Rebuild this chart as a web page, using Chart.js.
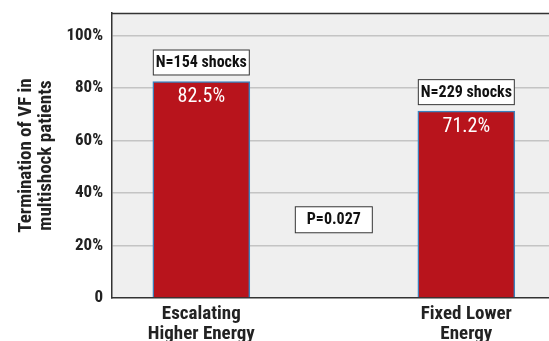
<!DOCTYPE html>
<html>
<head>
<meta charset="utf-8">
<script src="https://cdn.jsdelivr.net/npm/chart.js@4"></script>
<style>
  html, body { margin: 0; padding: 0; background: #fff; overflow: hidden; }
  #wrap { width: 549px; height: 341px; }
</style>
</head>
<body>
<div id="wrap"><canvas id="vfChart" width="549" height="341"></canvas></div>
<script>
// values
const categories = [['Escalating', 'Higher Energy'], ['Fixed Lower', 'Energy']];
const termination = [82.5, 71.2];
const shockLabels = ['N=154 shocks', 'N=229 shocks'];
const pValueLabel = 'P=0.027';
const pValuePos = { x: 0.5, y: 30 };
const yTicks = [0, 20, 40, 60, 80, 100];

const FONT = "'Roboto Condensed', 'DejaVu Sans Condensed', sans-serif";

// gray plot panel + annotations
const annotate = {
    id: 'annotate',
    beforeDraw(chart) {
        const { ctx, chartArea: a } = chart;
        ctx.save();
        ctx.fillStyle = '#efefef';
        ctx.fillRect(a.left, a.top, a.right - a.left, a.bottom - a.top);
        ctx.restore();
    },
    afterDatasetsDraw(chart) {
        const { ctx, chartArea: a } = chart;
        const x = chart.scales.x, y = chart.scales.y;
        const bars = chart.getDatasetMeta(0).data;
        ctx.save();
        // top border
        ctx.strokeStyle = '#333';
        ctx.lineWidth = 1.5;
        ctx.beginPath();
        ctx.moveTo(a.left, a.top + 0.5);
        ctx.lineTo(a.right, a.top + 0.5);
        ctx.stroke();

        bars.forEach((bar, i) => {
            const w = bar.width;
            const left = bar.x - w / 2;
            // N box above bar
            ctx.fillStyle = '#fff';
            ctx.strokeStyle = '#333';
            ctx.lineWidth = 1;
            ctx.fillRect(left, bar.y - 32, w, 26);
            ctx.strokeRect(left + 0.5, bar.y - 31.5, w - 1, 25);
            ctx.fillStyle = '#111';
            ctx.font = 'bold 16px ' + FONT;
            ctx.textAlign = 'center';
            ctx.textBaseline = 'middle';
            ctx.fillText(shockLabels[i], bar.x, bar.y - 18.5);
            // value inside bar
            ctx.fillStyle = '#fff';
            ctx.font = 'normal 20px ' + FONT;
            ctx.fillText(termination[i].toFixed(1) + '%', bar.x, bar.y + 16);
        });

        // p value box
        const px = x.getPixelForValue(pValuePos.x);
        const py = y.getPixelForValue(pValuePos.y);
        ctx.fillStyle = '#fff';
        ctx.fillRect(px - 39, py - 13, 78, 27);
        ctx.strokeStyle = '#333';
        ctx.strokeRect(px - 38.5, py - 12.5, 77, 26);
        ctx.fillStyle = '#111';
        ctx.font = 'bold 16px ' + FONT;
        ctx.fillText(pValueLabel, px, py + 1);
        ctx.restore();
    }
};

const chart = new Chart(document.getElementById('vfChart'), {
    type: 'bar',
    data: {
        datasets: [{
            data: termination.map((v, i) => ({ x: i, y: v })),
            backgroundColor: '#b8141c',
            borderColor: '#3b82bd',
            borderWidth: 1.5,
            barThickness: 97
        }]
    },
    options: {
        responsive: false,
        animation: false,
        layout: { padding: { top: 13, right: 0, left: 0, bottom: 0 } },
        plugins: { legend: { display: false }, tooltip: { enabled: false } },
        scales: {
            x: {
                type: 'linear',
                offset: false,
                min: -0.337,
                max: 1.312,
                afterBuildTicks: axis => { axis.ticks = [{ value: 0 }, { value: 1 }]; },
                afterFit: axis => { axis.height = 43; axis.paddingLeft = 0; axis.paddingRight = 0; },
                grid: { display: false, drawTicks: false, offset: false },
                border: { color: '#333', width: 1.5 },
                ticks: {
                    autoSkip: false,
                    maxRotation: 0,
                    padding: 7,
                    color: '#222',
                    font: { family: FONT, size: 19, weight: 'bold', lineHeight: 1.02 },
                    callback: v => categories[v]
                }
            },
            y: {
                min: 0,
                max: 108.6,
                afterBuildTicks: axis => { axis.ticks = yTicks.map(v => ({ value: v })); },
                afterFit: axis => { axis.width = 112; axis.paddingTop = 0; axis.paddingBottom = 0; },
                grid: {
                    color: ctx => ctx.tick && ctx.tick.value === 0 ? 'rgba(0,0,0,0)' : '#c4c4c4',
                    lineWidth: 1.5,
                    drawTicks: false
                },
                border: { color: '#333', width: 1.5 },
                ticks: {
                    padding: 9,
                    color: '#222',
                    font: { family: FONT, size: 17, weight: 'bold' },
                    callback: v => v === 0 ? '0' : v + '%'
                },
                title: {
                    display: true,
                    text: ['Termination of VF in', 'multishock patients'],
                    color: '#222',
                    font: { family: FONT, size: 19, weight: 'bold', lineHeight: 1.05 },
                    padding: { top: 16, bottom: 0 }
                }
            }
        }
    },
    plugins: [annotate]
});
</script>
</body>
</html>
